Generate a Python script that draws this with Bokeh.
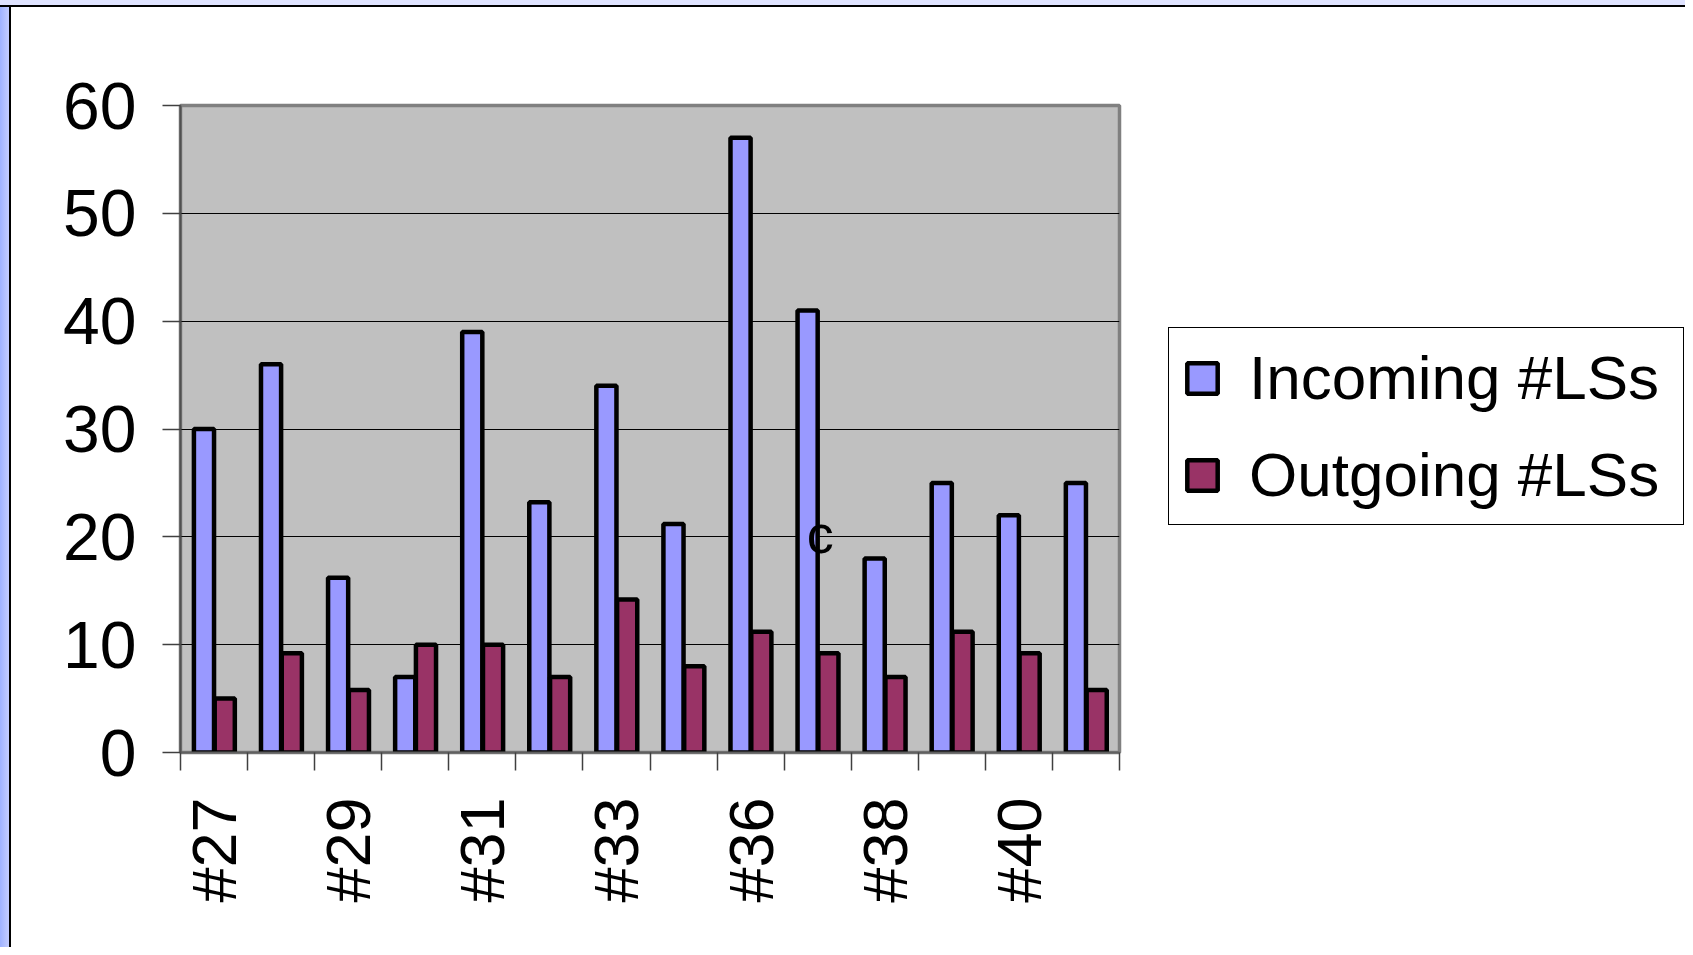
import numpy as np
from bokeh.plotting import figure
from bokeh.layouts import row
from bokeh.models import ColumnDataSource, Range1d, FixedTicker, Legend, LegendItem
from bokeh.core.properties import value
from bokeh.embed import file_html
from bokeh.resources import INLINE

categories = ["#27", "#28", "#29", "#30", "#31", "#32", "#33", "#35", "#36", "#37", "#38", "#39", "#40", "#41"]
incoming = [30, 36, 16.2, 7, 39, 23.2, 34, 21.2, 57, 41, 18, 25, 22, 25]
outgoing = [5, 9.2, 5.8, 10, 10, 7, 14.2, 8, 11.2, 9.2, 7, 11.2, 9.2, 5.8]
series_names = ["Incoming #LSs", "Outgoing #LSs"]
series_colors = ["#9999FF", "#993366"]
y_ticks = [0, 10, 20, 30, 40, 50, 60]
note_text = ["c"]
note_x = [9.54]
note_y = [20.3]

FONT = "Liberation Sans"
n = len(categories)
idx = np.arange(n)

src = ColumnDataSource(dict(
    xi=idx + 0.35, xo=idx + 0.66, inc=incoming, out=outgoing, cat=categories))

PAD_L, PAD_T = 11, 7

p = figure(width=1150 - PAD_L, height=947 - PAD_T, output_backend="svg", toolbar_location=None,
           x_range=Range1d(0, n), y_range=Range1d(0, 60),
           min_border_left=180 - PAD_L, min_border_top=105 - PAD_T, min_border_right=31,
           min_border_bottom=195)
p.background_fill_color = "#C0C0C0"
p.border_fill_color = "white"
p.outline_line_color = "#808080"
p.outline_line_width = 3.5

bar_style = dict(line_color="black", line_width=4.5)
r1 = p.vbar(x="xi", top="inc", width=0.3, source=src, fill_color=series_colors[0], **bar_style)
r2 = p.vbar(x="xo", top="out", width=0.3, source=src, fill_color=series_colors[1], **bar_style)

p.text(x=note_x, y=note_y, text=note_text, text_font=value(FONT), text_font_size="54px",
       text_align="center", text_baseline="middle", text_color="black")

# grid
p.xgrid.visible = False
p.ygrid.ticker = FixedTicker(ticks=y_ticks)
p.ygrid.grid_line_color = "black"
p.ygrid.grid_line_width = 1

# y axis
ya = p.yaxis[0]
ya.ticker = FixedTicker(ticks=y_ticks)
ya.major_label_text_font = FONT
ya.major_label_text_font_size = "66px"
ya.major_label_text_color = "black"
ya.major_tick_out = 18
ya.major_tick_in = 0
ya.minor_tick_out = 0
ya.minor_tick_in = 0
ya.major_tick_line_color = "#404040"
ya.major_tick_line_width = 1.5
ya.axis_line_color = "#505050"
ya.axis_line_width = 2
ya.major_label_standoff = 26

# x axis
xa = p.xaxis[0]
label_pos = [i + 0.5 for i in range(0, n, 2)]
xa.ticker = FixedTicker(ticks=label_pos, minor_ticks=[float(i) for i in range(n + 1)])
xa.major_label_overrides = {i + 0.5: categories[i] for i in range(0, n, 2)}
xa.major_label_orientation = np.pi / 2
xa.major_label_text_font = FONT
xa.major_label_text_font_size = "63px"
xa.major_label_text_color = "black"
xa.major_tick_out = 0
xa.major_tick_in = 0
xa.minor_tick_out = 18
xa.minor_tick_in = 0
xa.minor_tick_line_color = "#404040"
xa.minor_tick_line_width = 1.5
xa.axis_line_color = "#606060"
xa.axis_line_width = 2
xa.major_label_standoff = 27

# legend panel as a second figure
p2 = figure(width=535, height=947 - PAD_T, output_backend="svg", toolbar_location=None,
            x_range=Range1d(0, 1), y_range=Range1d(0, 1),
            x_axis_location=None, y_axis_location=None, min_border=0)
p2.grid.visible = False
p2.outline_line_color = None
p2.background_fill_color = "white"
p2.border_fill_color = "white"
# legend swatch renderers (zero-size, hidden behind the opaque legend box)
swatch = ColumnDataSource(dict(x=[0.5], top=[0.5], bottom=[0.5]))
l1 = p2.vbar(x="x", top="top", bottom="bottom", width=0.02, source=swatch,
             fill_color=series_colors[0], **bar_style)
l2 = p2.vbar(x="x", top="top", bottom="bottom", width=0.02, source=swatch,
             fill_color=series_colors[1], **bar_style)

legend = Legend(items=[LegendItem(label=series_names[0], renderers=[l1]),
                       LegendItem(label=series_names[1], renderers=[l2])],
                location=(18, 227))
legend.label_text_font = FONT
legend.label_text_font_size = "62px"
legend.label_text_color = "black"
legend.label_width = 420
legend.glyph_width = 38
legend.glyph_height = 38
legend.label_standoff = 28
legend.padding = 14
legend.spacing = 26
legend.margin = 0
legend.border_line_color = "black"
legend.border_line_alpha = 1
legend.border_line_width = 1
legend.background_fill_color = "white"
legend.background_fill_alpha = 1
p2.add_layout(legend, "center")

bg = ("linear-gradient(to bottom, #dfe3ff 0px, #dfe3ff 5px, #000000 5px, #000000 7px, "
      "transparent 7px), linear-gradient(to right, #9fb2ff 0px, #c4cdff 9px, #000000 9px, "
      "#000000 11px, transparent 11px)")
layout = row(p, p2, styles={"padding-left": f"{PAD_L}px", "padding-top": f"{PAD_T}px",
                            "background": bg})
open("out.html", "w").write(file_html(layout, INLINE))
